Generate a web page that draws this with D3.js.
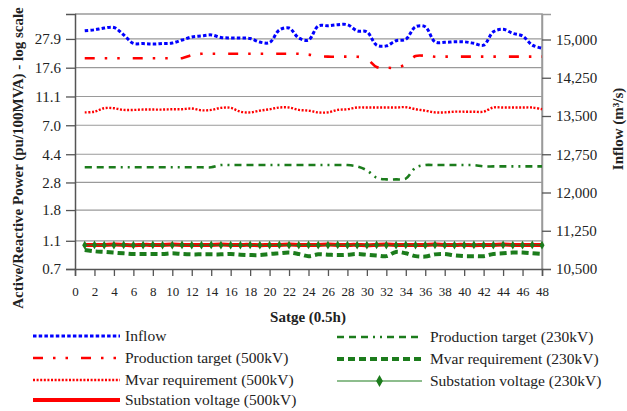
<!DOCTYPE html>
<html>
<head>
<meta charset="utf-8">
<script src="https://cdn.jsdelivr.net/npm/d3@7"></script>
<style>
  html, body { margin: 0; padding: 0; background: #fff; }
  svg { display: block; }
  svg text { font-family: "Liberation Serif", "DejaVu Serif", "Times New Roman", Times, serif !important; fill: #222; }
</style>
</head>
<body>
<svg id="chart" width="627" height="411"></svg>
<script>
// Half-hour stages
const stages = [1,2,3,4,5,6,7,8,9,10,11,12,13,14,15,16,17,18,19,20,21,22,23,24,
                25,26,27,28,29,30,31,32,33,34,35,36,37,38,39,40,41,42,43,44,45,46,47,48];

// Inflow (m3/s), right axis
const inflow = [15170,15190,15225,15235,15090,14925,14920,14910,14920,14930,14990,15050,
                15070,15090,15040,15030,15030,15020,14950,14940,15185,15225,15030,14990,
                15265,15270,15290,15290,15170,15150,14890,14875,14975,15005,15250,15250,
                14955,14945,14955,14955,14925,14890,15150,15200,15120,15070,14890,14830];

// Active / reactive power (pu/100MVA), left log axis
const prod500 = [20.5,20.5,20.5,20.5,20.5,20.5,20.5,20.5,20.5,20.5,20.5,21.5,
                 22.0,22.0,22.0,22.0,22.0,22.0,22.0,22.0,22.0,22.0,22.0,21.7,
                 21.2,21.0,21.0,21.0,21.0,20.3,17.8,17.6,17.6,18.6,21.2,21.3,
                 21.0,21.0,21.0,21.0,21.0,21.0,21.0,21.0,21.0,21.0,21.0,21.0];

const mvar500 = [8.6,8.7,9.2,9.2,8.95,8.95,9.0,9.0,9.0,9.05,9.05,9.15,
                 8.9,8.95,9.25,9.25,8.7,8.6,8.85,9.05,9.3,9.3,8.95,8.85,
                 8.6,8.6,8.95,9.05,9.3,9.3,9.3,9.3,9.3,9.35,9.05,8.85,
                 8.6,8.6,8.7,8.7,8.7,8.7,9.3,9.3,9.3,9.3,9.3,9.05];

const volt500 = [1.03,1.03,1.03,1.035,1.03,1.025,1.03,1.03,1.03,1.035,1.03,1.03,
                 1.03,1.03,1.035,1.03,1.03,1.03,1.025,1.03,1.03,1.035,1.03,1.03,
                 1.03,1.035,1.03,1.03,1.03,1.025,1.03,1.035,1.03,1.03,1.03,1.03,
                 1.035,1.03,1.03,1.03,1.025,1.03,1.03,1.035,1.03,1.03,1.03,1.03];

const prod230 = [3.57,3.57,3.57,3.57,3.57,3.57,3.57,3.57,3.57,3.57,3.57,3.57,
                 3.57,3.57,3.70,3.70,3.70,3.70,3.70,3.70,3.70,3.70,3.70,3.70,
                 3.70,3.70,3.70,3.70,3.62,3.40,3.02,2.94,2.94,2.98,3.55,3.70,
                 3.70,3.70,3.70,3.70,3.70,3.62,3.62,3.62,3.62,3.62,3.62,3.62];

const mvar230 = [0.95,0.93,0.92,0.91,0.90,0.89,0.89,0.89,0.89,0.90,0.89,0.885,
                 0.885,0.885,0.885,0.89,0.88,0.875,0.875,0.89,0.90,0.91,0.89,0.86,
                 0.885,0.88,0.875,0.88,0.89,0.88,0.87,0.86,0.92,0.90,0.86,0.855,
                 0.885,0.89,0.87,0.86,0.86,0.86,0.89,0.90,0.91,0.91,0.90,0.89];

const volt230 = [1.025,1.03,1.025,1.025,1.03,1.025,1.025,1.03,1.025,1.025,1.03,1.025,
                 1.025,1.03,1.025,1.025,1.025,1.03,1.025,1.025,1.03,1.025,1.025,1.03,
                 1.025,1.025,1.03,1.025,1.025,1.025,1.03,1.025,1.025,1.03,1.025,1.025,
                 1.03,1.025,1.025,1.025,1.03,1.025,1.025,1.03,1.025,1.025,1.03,1.025];

// Axis ticks
const xTicks = [0,2,4,6,8,10,12,14,16,18,20,22,24,26,28,30,32,34,36,38,40,42,44,46,48];
const leftTicks = [0.7,1.1,1.8,2.8,4.4,7.0,11.1,17.6,27.9];
const rightTicks = [10500,11250,12000,12750,13500,14250,15000];

const svg = d3.select("#chart");
const plot = { left: 75, right: 542, top: 14, bottom: 269 };

const x = d3.scaleLinear().domain([0, 48]).range([plot.left, plot.right]);
const yL = d3.scaleLog().domain([0.7, 41.6]).range([plot.bottom, plot.top]);
const yR = d3.scaleLinear().domain([10500, 15500]).range([plot.bottom, plot.top]);

const RED = "#ff0000", BLUE = "#0000ff", GREEN = "#1c7c1c";
const SERIF = "'Liberation Serif', 'DejaVu Serif', 'Times New Roman', serif";

// Horizontal gridlines on the log-axis ticks
svg.append("g")
  .selectAll("line")
  .data(leftTicks.slice(1))
  .join("line")
  .attr("x1", plot.left).attr("x2", plot.right)
  .attr("y1", d => yL(d)).attr("y2", d => yL(d))
  .attr("stroke", "#9a9a9a").attr("stroke-width", 1.2);

// Plot frame (top and right)
svg.append("path")
  .attr("d", `M${plot.left},${plot.top}H${plot.right}V${plot.bottom}`)
  .attr("fill", "none").attr("stroke", "#9a9a9a").attr("stroke-width", 1.5);

// Axes
const fmtL = d3.format(".1f");
const axL = svg.append("g").attr("transform", `translate(${plot.left},0)`)
  .call(d3.axisLeft(yL).tickValues(leftTicks).tickFormat(fmtL).tickSize(9).tickPadding(5));
const axR = svg.append("g").attr("transform", `translate(${plot.right},0)`)
  .call(d3.axisRight(yR).tickValues(rightTicks).tickFormat(d3.format(",")).tickSize(9).tickPadding(5));
const axB = svg.append("g").attr("transform", `translate(0,${plot.bottom})`)
  .call(d3.axisBottom(x).tickValues(xTicks).tickSize(7).tickPadding(11));

[axL, axR, axB].forEach(g => {
  g.attr("font-family", SERIF);
  g.selectAll("path.domain").attr("stroke", "#555").attr("stroke-width", 1.5);
  g.selectAll(".tick line").attr("stroke", "#555").attr("stroke-width", 1.3);
  g.selectAll(".tick text").attr("fill", "#333");
});
axL.attr("font-size", 15);
axR.attr("font-size", 15);
axB.attr("font-size", 13);
axR.select("path.domain").attr("stroke", "#9a9a9a");

// Axis titles
svg.append("text")
  .attr("transform", "translate(23,158) rotate(-90)")
  .attr("text-anchor", "middle")
  .style("font-size", "15px").style("font-weight", "bold")
  .text("Active/Reactive Power (pu/100MVA) - log scale");

svg.append("text")
  .attr("transform", "translate(623,129) rotate(-90)")
  .attr("text-anchor", "middle")
  .style("font-size", "15px").style("font-weight", "bold")
  .text("Inflow (m³/s)");

svg.append("text")
  .attr("x", 308).attr("y", 322)
  .attr("text-anchor", "middle")
  .style("font-size", "15px").style("font-weight", "bold")
  .text("Satge (0.5h)");

// Series definitions
const series = [
  { name: "Inflow", values: inflow, y: yR, color: BLUE, width: 3, dash: "3.5,2.2" },
  { name: "Production target (500kV)", values: prod500, y: yL, color: RED, width: 2.6, dash: "10,10,2.5,10,2.5,13" },
  { name: "Mvar requirement (500kV)", values: mvar500, y: yL, color: RED, width: 2.4, dash: "2,1.6" },
  { name: "Substation voltage (500kV)", values: volt500, y: yL, color: RED, width: 4, dash: null },
  { name: "Production target (230kV)", values: prod230, y: yL, color: GREEN, width: 2.6, dash: "7,5,7,5,7,5,2,5,2,5" },
  { name: "Mvar requirement (230kV)", values: mvar230, y: yL, color: GREEN, width: 4, dash: "7,4" },
  { name: "Substation voltage (230kV)", values: volt230, y: yL, color: GREEN, width: 1.2, dash: null, marker: true }
];

const gLines = svg.append("g");
const diamond = d3.symbol().type(d3.symbolDiamond).size(22);

series.forEach(s => {
  const line = d3.line()
    .x((d, i) => x(stages[i]))
    .y(d => s.y(d))
    .curve(d3.curveCatmullRom.alpha(0.5));
  gLines.append("path")
    .attr("d", line(s.values))
    .attr("fill", "none")
    .attr("stroke", s.color)
    .attr("stroke-width", s.width)
    .attr("stroke-dasharray", s.dash);
  if (s.marker) {
    gLines.append("g").selectAll("path")
      .data(s.values)
      .join("path")
      .attr("transform", (d, i) => `translate(${x(stages[i])},${s.y(d)})`)
      .attr("d", diamond)
      .attr("fill", s.color);
  }
});

// Legend
const legendLeft = [
  { s: series[0], y: 336 },
  { s: series[1], y: 358 },
  { s: series[2], y: 380 },
  { s: series[3], y: 400 }
];
const legendRight = [
  { s: series[4], y: 337 },
  { s: series[5], y: 359 },
  { s: series[6], y: 381 }
];

function drawLegend(items, x0, x1, tx) {
  const g = svg.append("g");
  items.forEach(it => {
    const s = it.s;
    g.append("line")
      .attr("x1", x0).attr("x2", x1)
      .attr("y1", it.y).attr("y2", it.y)
      .attr("stroke", s.color)
      .attr("stroke-width", s.width)
      .attr("stroke-dasharray", s.dash);
    if (s.marker) {
      g.append("path")
        .attr("transform", `translate(${(x0 + x1) / 2},${it.y})`)
        .attr("d", d3.symbol().type(d3.symbolDiamond).size(40))
        .attr("fill", s.color);
    }
    g.append("text")
      .attr("x", tx).attr("y", it.y)
      .attr("dy", "0.35em")
      .style("font-size", "15.5px")
      .text(s.name);
  });
}
drawLegend(legendLeft, 33, 120, 125);
drawLegend(legendRight, 337, 422, 430);
</script>
</body>
</html>
